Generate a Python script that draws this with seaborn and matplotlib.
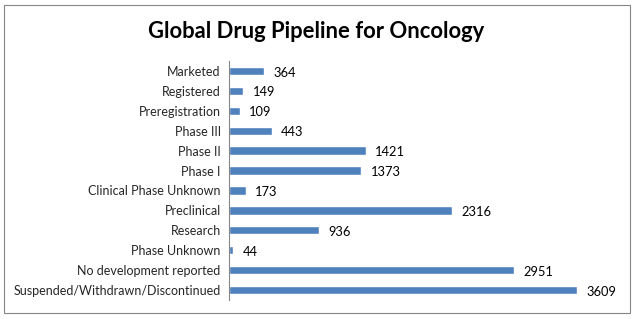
import matplotlib
matplotlib.use("Agg")
import matplotlib.pyplot as plt
import seaborn as sns
import pandas as pd
from matplotlib.patches import Rectangle

categories = ["Marketed", "Registered", "Preregistration", "Phase III", "Phase II",
              "Phase I", "Clinical Phase Unknown", "Preclinical", "Research",
              "Phase Unknown", "No development reported",
              "Suspended/Withdrawn/Discontinued"]
values = [364, 149, 109, 443, 1421, 1373, 173, 2316, 936, 44, 2951, 3609]
title = "Global Drug Pipeline for Oncology"

df = pd.DataFrame({"stage": categories, "count": values})

sns.set_style("white")
plt.rcParams['font.family'] = ['Lato', 'DejaVu Sans']

fig = plt.figure(figsize=(6.34, 3.19), dpi=100)
ax = fig.add_axes([229/634, 1-300/319, 386/634, 239/319])

sns.barplot(data=df, x="count", y="stage", orient="h", color="#4f81bd",
            width=0.42, saturation=1, ax=ax)

for i, v in enumerate(values):
    ax.text(v + 95, i + 0.08, str(v), va="center", ha="left", fontsize=9.3, color="black")

ax.set_xlim(0, 4000)
ax.set_xlabel("")
ax.set_ylabel("")
ax.set_xticks([])
ax.tick_params(axis="y", length=0, labelsize=9, pad=6)
for s in ["top", "right", "bottom"]:
    ax.spines[s].set_visible(False)
ax.spines["left"].set_color("#868686")
ax.spines["left"].set_linewidth(0.8)

fig.text(316/634, 1-32/319, title, ha="center", va="center", fontsize=15.8,
         fontweight="bold", color="black")

fig.patches.append(Rectangle((4/634, 6/319), 626/634, 308/319, transform=fig.transFigure,
                             fill=False, edgecolor="#868686", linewidth=0.8))

fig.savefig("out.png", dpi=100)
